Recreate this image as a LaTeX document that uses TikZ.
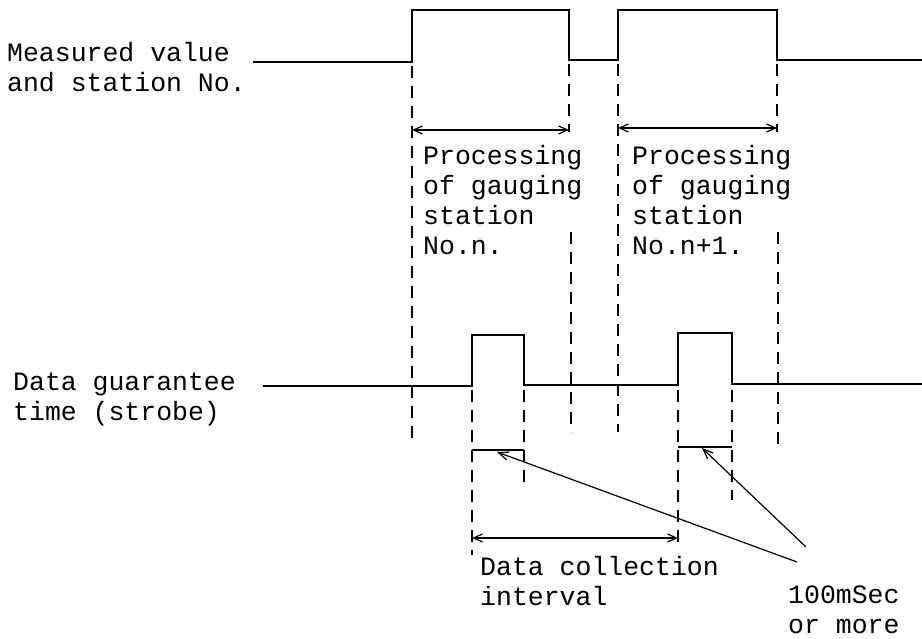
\documentclass[tikz,border=0pt]{standalone}
\usepackage{fontspec}
\setmonofont{Liberation Mono}
\usetikzlibrary{arrows.meta}

\begin{document}
\begin{tikzpicture}[
    x=1pt, y=-1pt,
    label/.style={anchor=base west, inner sep=0pt, align=left, font=\ttfamily\fontsize{26.5}{30}\selectfont},
    signal/.style={line width=2.2pt},
    guide/.style={line width=1.8pt, dash pattern=on 12pt off 8pt},
    bracket/.style={line width=1.4pt},
    span/.style={{Straight Barb[length=9pt,width=8pt]}-{Straight Barb[length=9pt,width=8pt]}, line width=1.2pt},
    leader/.style={-{Straight Barb[length=10pt,width=8pt]}, line width=1.2pt}
]
\useasboundingbox (0,0) rectangle (922,639);

\node[label] (measured) at (7,92) {Measured value\\and station No.};
\node[label] (strobe) at (13,420) {Data guarantee\\time (strobe)};
\node[label] (procn) at (423,255) {Processing\\of gauging\\station\\No.n.};
\node[label] (procnext) at (632,255) {Processing\\of gauging\\station\\No.n+1.};
\node[label] (collect) at (480,605) {Data collection\\interval};
\node[label] (msec) at (788,633) {100mSec\\or more};

\draw[signal] (253,62) -- (412,62) -- (412,10) -- (569,10) -- (569,60) -- (618,60)
    -- (618,10) -- (777,10) -- (777,60) -- (922,60);
\draw[signal] (263,386) -- (472,386) -- (472,335) -- (524,335) -- (524,385) -- (678,385)
    -- (678,333) -- (732,333) -- (732,384) -- (922,384);

\draw[guide] (412,66) -- (412,440);
\draw[guide] (569,64) -- (569,132);
\draw[guide] (571,232) -- (571,432);
\draw[guide] (618,64) -- (618,432);
\draw[guide] (777,64) -- (777,132);
\draw[guide] (778,232) -- (778,445);
\draw[guide] (472,390) -- (472,555);
\draw[guide] (524,390) -- (524,487);
\draw[guide] (678,390) -- (678,548);
\draw[guide] (732,390) -- (732,500);

\coordinate (gapn) at (497,452);
\coordinate (gapnext) at (702,448);
\coordinate (leadn) at (797,562);
\coordinate (leadnext) at (806,547);

\draw[span] (412,130) -- (569,130);
\draw[span] (618,128) -- (777,128);
\draw[span] (472,538) -- (678,538);

\draw[bracket] (472,450) -- (524,450);
\draw[bracket] (678,447) -- (732,447);

\draw[leader] (leadn) -- (gapn);
\draw[leader] (leadnext) -- (gapnext);

\end{tikzpicture}
\end{document}
